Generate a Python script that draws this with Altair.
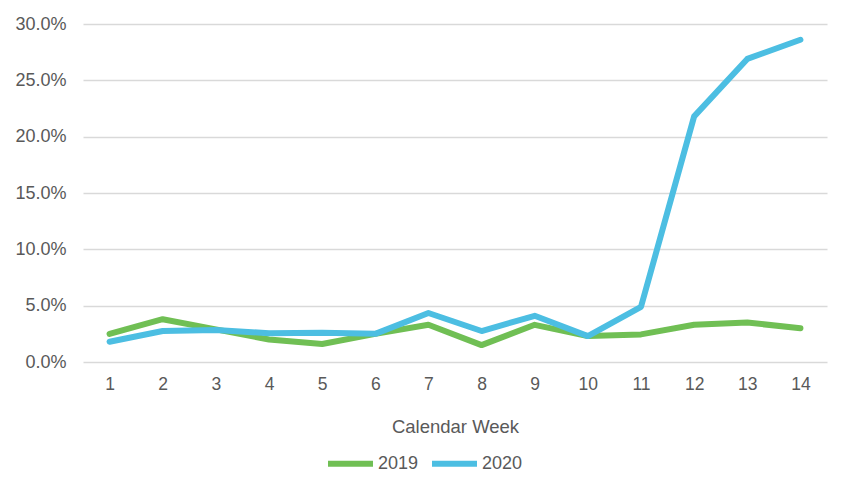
import altair as alt
import pandas as pd

weeks = list(range(1, 15))
y2019 = [2.5, 3.8, 2.9, 2.0, 1.6, 2.5, 3.3, 1.5, 3.3, 2.3, 2.45, 3.3, 3.5, 3.0]
y2020 = [1.8, 2.75, 2.85, 2.55, 2.6, 2.5, 4.35, 2.75, 4.1, 2.3, 4.9, 21.8, 26.9, 28.6]
series = ["2019", "2020"]
colors = ["#70BF54", "#4CBEE2"]

rows = []
for name, vals in zip(series, [y2019, y2020]):
    for w, v in zip(weeks, vals):
        rows.append({"week": w, "value": v / 100.0, "series": name})
df = pd.DataFrame(rows)

FONT = "Liberation Sans"
GRAY = "#595959"

chart = alt.Chart(df).mark_line(strokeWidth=6, strokeCap="round", strokeJoin="round").encode(
    x=alt.X("week:O",
            scale=alt.Scale(type="point", padding=0.5),
            axis=alt.Axis(title="Calendar Week", labelAngle=0, ticks=False, domain=False,
                          grid=False, labelFontSize=17.5, labelColor=GRAY, labelPadding=13,
                          titleFontSize=18.5, titleColor=GRAY, titleFontWeight="normal",
                          titlePadding=25, labelFont=FONT, titleFont=FONT)),
    y=alt.Y("value:Q",
            scale=alt.Scale(domain=[0, 0.30], nice=False),
            axis=alt.Axis(title=None, format=".1%", values=[0, 0.05, 0.10, 0.15, 0.20, 0.25, 0.30],
                          ticks=False, domain=False, gridColor="#D9D9D9", gridWidth=1.5,
                          labelFontSize=18, labelColor=GRAY, labelPadding=17, labelFont=FONT)),
    color=alt.Color("series:N", scale=alt.Scale(domain=series, range=colors),
                    legend=alt.Legend(title=None, orient="none", direction="horizontal",
                                      legendX=242, legendY=414,
                                      symbolType="stroke", symbolSize=2025, symbolStrokeWidth=6,
                                      labelFontSize=18, labelColor=GRAY, labelFont=FONT,
                                      labelOffset=2, columnPadding=1)),
).properties(
    width=744, height=338,
    autosize=alt.AutoSizeParams(type="none"),
    padding={"left": 75, "top": 16, "right": 15, "bottom": 120},
).configure_view(stroke=None)

chart.save("out.html", embed_options={"renderer": "svg", "actions": False})
